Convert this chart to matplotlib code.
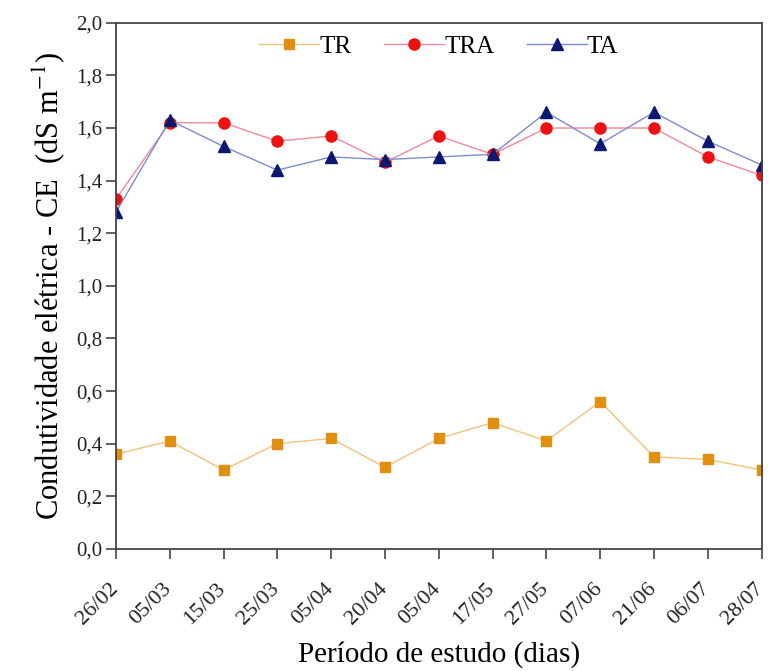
import numpy as np
import matplotlib.pyplot as plt
import matplotlib.transforms as mtransforms
from matplotlib.ticker import FuncFormatter

plt.rcParams['font.family'] = ['Liberation Serif', 'DejaVu Serif']
plt.rcParams['mathtext.fontset'] = 'stix'

# dates of sampling
datas = ['26/02', '05/03', '15/03', '25/03', '05/04', '20/04', '05/04',
         '17/05', '27/05', '07/06', '21/06', '06/07', '28/07']

# electrical conductivity (dS m-1)
TR = [0.36, 0.41, 0.30, 0.40, 0.42, 0.31, 0.42, 0.48, 0.41, 0.56, 0.35, 0.34, 0.30]
TRA = [1.33, 1.62, 1.62, 1.55, 1.57, 1.47, 1.57, 1.50, 1.60, 1.60, 1.60, 1.49, 1.42]
TA = [1.28, 1.63, 1.53, 1.44, 1.49, 1.48, 1.49, 1.50, 1.66, 1.54, 1.66, 1.55, 1.46]

x = np.arange(len(datas))

fig = plt.figure(figsize=(7.78, 6.71), dpi=100)
ax = fig.add_axes([0.149, 0.182, 0.830, 0.784])

ax.plot(x, TR, color='#f2c27a', lw=1, marker='s', ms=7,
        mfc='#e08f10', mec='#e08f10', label='TR')
ax.plot(x, TRA, color='#f08a9a', lw=1, marker='o', ms=8,
        mfc='#ee1111', mec='#ee1111', label='TRA')
ax.plot(x, TA, color='#7f8ad0', lw=1, marker='^', ms=8,
        mfc='#0c1870', mec='#0c1870', label='TA')

ax.set_xlim(0, 12)
ax.set_ylim(0, 2.0)
ax.set_yticks(np.arange(0, 2.01, 0.2))
ax.yaxis.set_major_formatter(FuncFormatter(lambda v, p: ('%.1f' % v).replace('.', ',')))
ax.set_xticks(x)
ax.set_xticklabels(datas, rotation=45, ha='right')

ax.tick_params(axis='both', direction='out', length=7, width=1.2,
               colors='#444444', labelcolor='#222222')
ax.tick_params(axis='y', labelsize=15, pad=3)
ax.tick_params(axis='x', labelsize=16, pad=15)
# shift rotated date labels a little to the right like the original
shift = mtransforms.ScaledTranslation(6 / 100, 0, fig.dpi_scale_trans)
for lab in ax.get_xticklabels():
    lab.set_transform(lab.get_transform() + shift)

for s in ax.spines.values():
    s.set_linewidth(1.3)
    s.set_color('#444444')

ax.set_ylabel('Condutividade elétrica - CE  (dS m$^{-1}$)', fontsize=22, labelpad=6)
ax.set_xlabel('Período de estudo (dias)', fontsize=21, labelpad=9)

ax.legend(loc='center', ncol=3, frameon=False, fontsize=18,
          handlelength=2.4, handletextpad=0.0, columnspacing=1.3,
          bbox_to_anchor=(0.5, 0.955))

plt.savefig('out.png', dpi=100)
